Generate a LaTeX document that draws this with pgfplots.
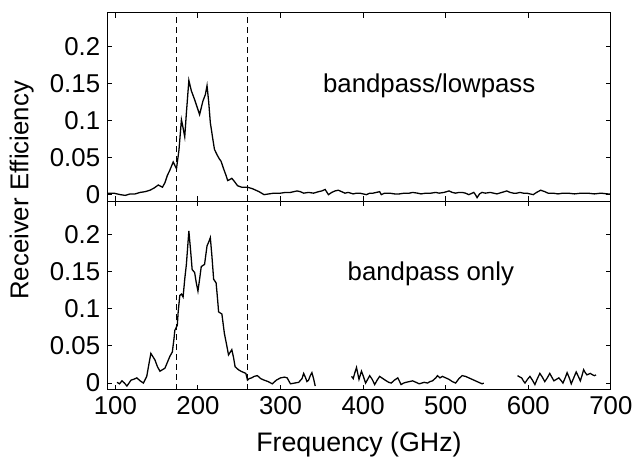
\documentclass[border=0pt]{standalone}
\usepackage{fontspec}
\setmainfont{Liberation Sans}
\usepackage{pgfplots}
\pgfplotsset{compat=1.18}

\pgfplotsset{
  effstyle/.style={
    scale only axis,
    width=254pt, height=95pt,
    xmin=90, xmax=700,
    ymin=-0.009, ymax=0.245,
    xtick={100,200,...,700},
    ytick={0,0.05,0.1,0.15,0.2},
    yticklabels={0,0.05,0.1,0.15,0.2},
    tick align=inside,
    major tick length=2.5pt,
    axis line style={line width=0.6pt},
    every tick/.style={black, line width=0.5pt},
    tick label style={font=\fontsize{13}{15}\selectfont},
    label style={font=\fontsize{13.5}{15}\selectfont},
    xlabel style={yshift=-1.5pt},
    /pgf/number format/assume math mode=true,
  },
  curve/.style={black, line width=0.65pt, no marks},
  cutoff/.style={black, line width=0.55pt, dash pattern=on 3pt off 2pt, no marks},
}

\begin{document}
\begin{tikzpicture}
% bottom panel
\begin{axis}[effstyle, at={(0,0)}, anchor=south west,
    xlabel={Frequency (GHz)}]
\addplot[cutoff] coordinates {(174,-0.009) (174,0.245)};
\addplot[cutoff] coordinates {(260,-0.009) (260,0.245)};
\addplot[curve] coordinates {
(102,0.001)(105,-0.001)(108,0.003)(111,0.000)(114,-0.004)(119,0.004)(122,0.005)(126,0.007)(130,0.003)(134,0.000)
(138,0.009)(141,0.028)(143,0.040)(148,0.031)(151,0.022)(154,0.016)(157,0.018)(160,0.020)(163,0.028)(166,0.036)
(169,0.042)(171,0.060)(172,0.071)(175,0.078)(176,0.095)(178,0.118)(180,0.120)(182,0.116)(184,0.140)(186,0.160)
(189,0.205)(191,0.180)(193,0.153)(196,0.149)(198,0.135)(200,0.124)(202,0.140)(204,0.157)(208,0.160)(211,0.185)
(213,0.190)(215,0.196)(217,0.170)(219,0.140)(222,0.135)(224,0.110)(225,0.096)(229,0.093)(232,0.067)(235,0.050)
(237,0.038)(241,0.045)(243,0.035)(245,0.022)(249,0.018)(252,0.016)(258,0.013)(260,0.004)(262,0.006)(265,0.007)
(268,0.009)(272,0.010)(276,0.006)(280,0.004)(285,0.002)(290,-0.001)(295,0.004)(300,0.007)(305,0.008)(308,0.007)
(312,-0.001)(317,0.000)(322,0.001)(326,0.006)(328,0.013)(330,0.008)(332,0.002)(334,0.004)(336,0.010)(338,0.014)
(340,0.006)(342,-0.004)
};
\addplot[curve] coordinates {
(386,0.009)(388,0.006)(390,0.014)(392,0.021)(395,0.005)(398,0.016)(400,0.010)(403,0.000)(406,0.006)(408,0.010)
(411,0.005)(414,-0.002)(417,0.004)(420,0.009)(424,0.006)(428,0.003)(431,0.001)(434,0.000)(438,0.004)(442,0.007)
(446,-0.002)(449,0.000)(452,0.001)(456,0.002)(460,0.003)(464,0.001)(468,-0.001)(471,0.000)(474,0.001)(478,0.000)
(481,0.002)(484,0.003)(488,0.007)(490,0.010)(493,0.007)(496,0.009)(500,0.007)(504,0.005)(508,0.002)(512,0.000)
(516,0.006)(520,0.010)(524,0.009)(528,0.007)(532,0.005)(536,0.003)(540,0.001)(544,-0.001)(546,0.000)
};
\addplot[curve] coordinates {
(587,0.010)(590,0.008)(592,0.007)(594,0.003)(596,0.000)(599,0.005)(602,0.009)(605,0.004)(608,-0.002)(611,0.006)
(614,0.013)(617,0.008)(620,0.002)(623,0.007)(626,0.013)(629,0.007)(631,0.003)(634,0.005)(637,0.007)(640,0.003)
(642,0.000)(645,0.008)(647,0.014)(650,0.006)(652,-0.001)(655,0.007)(658,0.015)(661,0.008)(663,0.003)(665,0.010)
(667,0.018)(669,0.014)(671,0.011)(673,0.012)(675,0.013)(678,0.011)(680,0.010)(682,0.011)
};
\node[font=\fontsize{13}{15}\selectfont] at (axis cs:482,0.147) {bandpass only};
\end{axis}

% top panel
\begin{axis}[effstyle, at={(0,95pt)}, anchor=south west,
    xticklabels={}]
\addplot[cutoff] coordinates {(174,-0.009) (174,0.245)};
\addplot[cutoff] coordinates {(260,-0.009) (260,0.245)};
\addplot[curve] coordinates {
(90,0.002)(98,0.002)(106,0.000)(112,-0.001)(118,0.001)(124,0.001)(130,0.003)(136,0.004)(142,0.006)(147,0.009)
(152,0.013)(157,0.010)(160,0.016)(163,0.026)(166,0.033)(170,0.044)(174,0.035)(177,0.060)(180,0.101)(182,0.090)
(184,0.078)(186,0.110)(189,0.154)(192,0.140)(196,0.128)(199,0.118)(202,0.108)(206,0.126)(209,0.135)(211,0.147)
(213,0.125)(215,0.097)(218,0.075)(220,0.061)(223,0.054)(226,0.048)(228,0.045)(231,0.035)(234,0.026)(236,0.019)
(238,0.020)(241,0.022)(244,0.018)(248,0.012)(253,0.010)(260,0.010)(266,0.008)(270,0.006)(274,0.004)(280,0.000)
(286,0.001)(292,0.002)(300,0.002)(306,0.003)(312,0.003)(320,0.005)(324,0.004)(328,0.002)(334,0.003)(340,0.002)
(346,0.004)(350,0.005)(354,0.007)(358,0.000)(362,0.003)(366,0.005)(370,0.006)(374,0.004)(378,0.002)(382,0.003)
(388,0.001)(392,0.002)(396,0.002)(400,0.001)(404,0.000)(408,0.002)(412,0.002)(416,0.003)(420,0.004)(422,0.000)
(426,0.002)(432,0.002)(438,0.001)(444,0.001)(450,0.002)(456,0.002)(460,0.003)(466,0.002)(470,0.001)(476,0.002)
(482,0.002)(488,0.003)(492,0.002)(498,0.003)(504,0.005)(508,0.003)(512,0.002)(516,0.003)(520,0.003)(524,0.002)
(528,0.000)(532,0.002)(534,0.003)(536,0.000)(538,-0.004)(541,0.001)(544,0.003)(548,0.002)(554,0.003)(558,0.002)
(562,0.001)(568,0.003)(574,0.005)(578,0.003)(582,0.002)(586,0.002)(590,0.003)(594,0.002)(598,0.002)(602,0.001)
(606,0.000)(610,0.003)(615,0.006)(620,0.004)(624,0.002)(630,0.002)(636,0.001)(642,0.002)(648,0.002)(656,0.001)
(664,0.002)(672,0.002)(680,0.001)(688,0.002)(696,0.001)(700,0.001)
};
\node[font=\fontsize{13}{15}\selectfont] at (axis cs:480,0.147) {bandpass/lowpass};
\end{axis}

% shared y label
\node[rotate=90, font=\fontsize{13}{15}\selectfont] at (-43pt,100.5pt) {Receiver Efficiency};
% page extent of the reference
\path (-54pt,-35.5pt) rectangle (265.5pt,196.5pt);
\end{tikzpicture}
\end{document}
